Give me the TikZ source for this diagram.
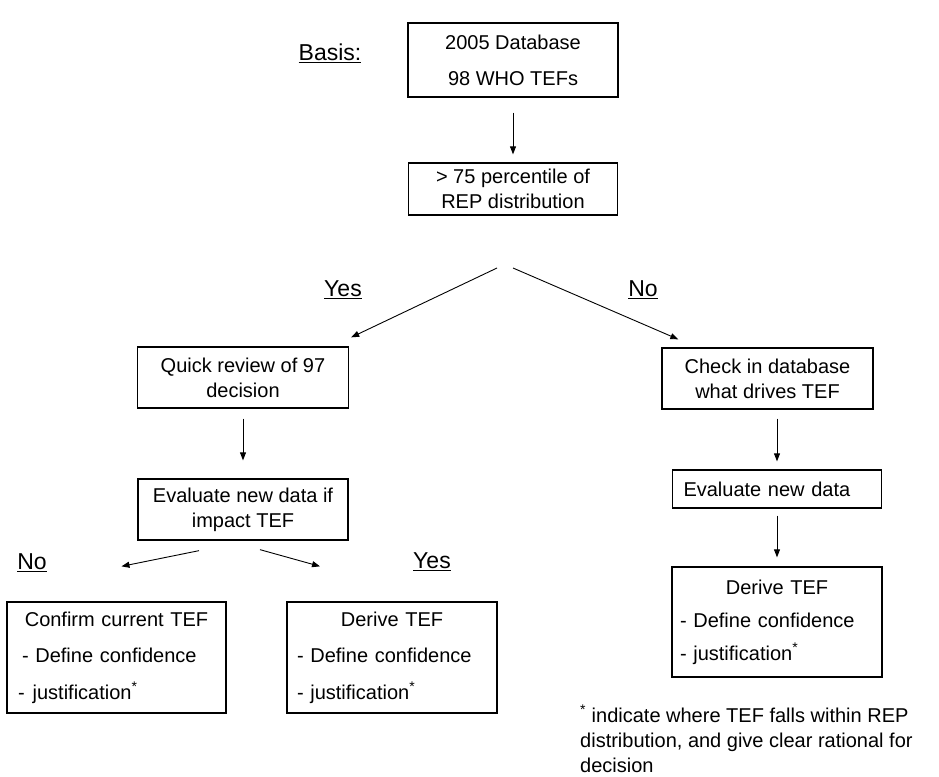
\documentclass[tikz,border=0pt]{standalone}
\usepackage{fontspec}
\setmainfont{Liberation Sans}
\usetikzlibrary{arrows.meta}
\newcommand{\branch}[1]{\underline{#1}}
\newcommand{\jmark}{\textsuperscript{*}}
\newcommand{\head}[1]{\makebox[\hsize]{#1}}

\begin{document}
\begin{tikzpicture}[x=1pt, y=-1pt,
    every node/.style={font=\fontsize{20}{25}\selectfont},
    box/.style={draw, line width=1.3pt, inner sep=0pt, align=center},
    listbox/.style={box, align=left, minimum height=111pt},
    lbl/.style={font=\fontsize{23}{28}\selectfont},
    arr/.style={-{Triangle[length=8pt,width=6pt]}, line width=0.9pt}]
    \useasboundingbox (0,0) rectangle (939,776);

    \node[lbl] (basis) at (330,53) {\branch{Basis:}};
    \node[box, minimum width=210pt, minimum height=74pt,
          font=\fontsize{20}{36}\selectfont] (db) at (513,60)
        {2005 Database\\98 WHO TEFs};
    \node[box, minimum width=209pt, minimum height=52pt] (rep) at (513,189)
        {> 75 percentile of\\REP distribution};

    \node[box, minimum width=211pt, minimum height=61pt] (quick) at (243,377.5)
        {Quick review of 97\\decision};
    \node[box, minimum width=211pt, minimum height=61pt] (check) at (767.5,378.5)
        {Check in database\\what drives TEF};
    \node[box, minimum width=210pt, minimum height=61pt] (impact) at (243,509.5)
        {Evaluate new data if\\impact TEF};
    \node[box, align=left, inner xsep=11pt, text width=187pt,
          minimum height=38pt] (newdata) at (777,489)
        {Evaluate new data};

    \node[listbox, inner xsep=11pt, text width=197pt,
          font=\fontsize{20}{36.5}\selectfont] (confirm) at (116.5,657.5)
        {\head{Confirm current TEF}\\
         \hspace*{4pt}- Define confidence\\
         -\hspace{8pt}justification\jmark};
    \node[listbox, inner xsep=10pt, text width=190pt,
          font=\fontsize{20}{36.5}\selectfont] (deriveY) at (392,657.5)
        {\head{Derive TEF}\\- Define confidence\\- justification\jmark};
    \node[listbox, inner xsep=8pt, text width=194pt, minimum height=110pt,
          font=\fontsize{20}{33}\selectfont] (deriveN) at (777,622)
        {\head{Derive TEF}\\- Define confidence\\- justification\jmark};

    \node[lbl] (yesA) at (343,290) {\branch{Yes}};
    \node[lbl] (noA) at (643,290) {\branch{No}};
    \node[lbl] (noB) at (32,563) {\branch{No}};
    \node[lbl] (yesB) at (432,562) {\branch{Yes}};

    \node[anchor=north west, align=left, inner sep=0pt] (foot) at (580,705)
        {\jmark\ indicate where TEF falls within REP\\
         distribution, and give clear rational for\\
         decision};

    \coordinate (forkL) at (497,268);
    \coordinate (forkR) at (513,268);

    \draw[arr, shorten <=15pt, shorten >=8pt] (db) -- (rep);
    \draw[arr] (forkL) -- ([xshift=2pt,yshift=9pt]quick.north east);
    \draw[arr] (forkR) -- ([xshift=17pt,yshift=8pt]check.north west);
    \draw[arr, shorten <=10pt, shorten >=18pt] (quick) -- (impact);
    \draw[arr, shorten <=9pt, shorten >=8pt] (check.south -| newdata.north) -- (newdata.north);
    \draw[arr, shorten <=7pt, shorten >=9pt] (newdata) -- (deriveN);
    \draw[arr] ([xshift=-44pt,yshift=-10pt]impact.south) -- ([xshift=5pt,yshift=35pt]confirm.north);
    \draw[arr] ([xshift=17pt,yshift=-9pt]impact.south) -- ([xshift=-72pt,yshift=35pt]deriveY.north);
\end{tikzpicture}
\end{document}
